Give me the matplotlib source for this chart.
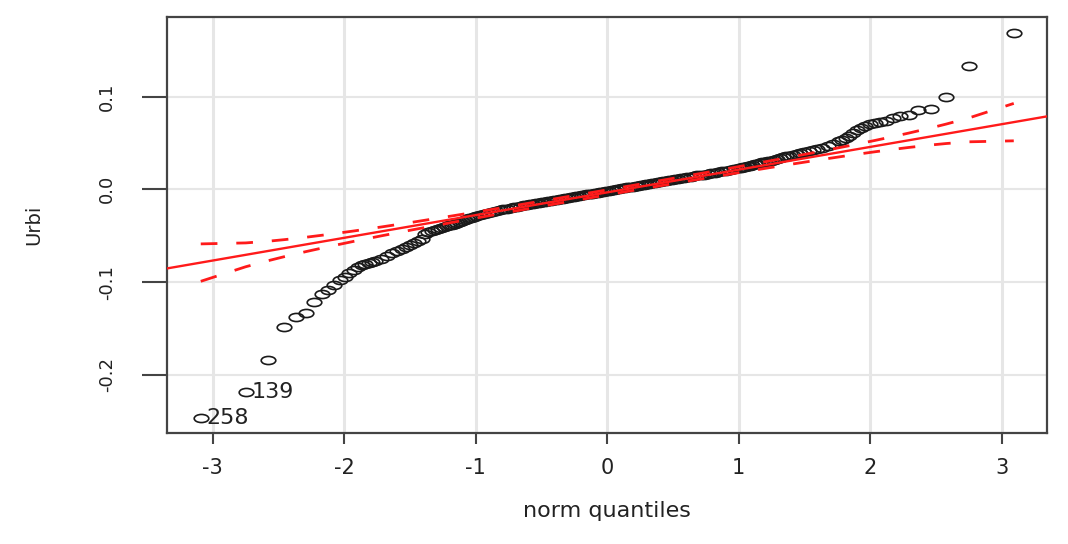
import numpy as np
import matplotlib
matplotlib.use("Agg")
import matplotlib.pyplot as plt
from matplotlib.path import Path
from statistics import NormalDist

plt.rcParams['font.family'] = ['DejaVu Sans']
plt.rcParams['axes.unicode_minus'] = False

n_obs = 500
ranks = (list(range(1, 21)) + list(range(22, 81, 2)) + list(range(84, 249, 4))
         + list(range(253, 422, 4)) + list(range(423, 482, 2)) + list(range(482, 501)))

resid_lo_tail = [-0.247, -0.219, -0.184, -0.148, -0.138, -0.133, -0.121, -0.113, -0.109, -0.103,
                 -0.098, -0.094, -0.090, -0.087, -0.084, -0.082, -0.080, -0.079, -0.078, -0.077]
resid_lo_mid = [-0.075, -0.072, -0.069, -0.066, -0.064, -0.062, -0.060, -0.058, -0.056, -0.054,
                -0.048, -0.046, -0.045, -0.044, -0.043, -0.042, -0.041, -0.040, -0.039, -0.038,
                -0.037, -0.036, -0.035, -0.034, -0.033, -0.032, -0.031, -0.031, -0.030, -0.0288]
resid_lo_core = [-0.0277, -0.0266, -0.0255, -0.0245, -0.0235, -0.0225, -0.0216, -0.0208, -0.0200,
                 -0.0193, -0.0186, -0.0179, -0.0173, -0.0167, -0.0162, -0.0156, -0.0150, -0.0144,
                 -0.0139, -0.0133, -0.0128, -0.0122, -0.0117, -0.0112, -0.0106, -0.0101, -0.0096,
                 -0.0091, -0.0086, -0.0081, -0.0076, -0.0071, -0.0066, -0.0061, -0.0056, -0.0051,
                 -0.0046, -0.0041, -0.0036, -0.0031, -0.0026, -0.0021]
resid_hi_core = [-0.0015, -0.0010, -0.0005, 0.0000, 0.0005, 0.0010, 0.0015, 0.0020, 0.0025, 0.0030,
                 0.0035, 0.0040, 0.0045, 0.0050, 0.0055, 0.0060, 0.0065, 0.0070, 0.0076, 0.0081,
                 0.0086, 0.0092, 0.0097, 0.0103, 0.0108, 0.0114, 0.0120, 0.0126, 0.0131, 0.0137,
                 0.0143, 0.0150, 0.0154, 0.0159, 0.0165, 0.0171, 0.0178, 0.0185, 0.0193, 0.0201,
                 0.0210, 0.0219, 0.0228]
resid_hi_mid = [0.0233, 0.0238, 0.0243, 0.0249, 0.0255, 0.0261, 0.0268, 0.0275, 0.0282, 0.0289,
                0.0296, 0.0303, 0.0310, 0.0318, 0.0330, 0.0342, 0.0350, 0.0357, 0.0364, 0.0372,
                0.0380, 0.0389, 0.0398, 0.0408, 0.0420, 0.0433, 0.0448, 0.0466, 0.0490, 0.0520]
resid_hi_tail = [0.0535, 0.0550, 0.0575, 0.0610, 0.0640, 0.0665, 0.0685, 0.0700, 0.0712, 0.0722,
                 0.0740, 0.0770, 0.0785, 0.0805, 0.0850, 0.0870, 0.0995, 0.1330, 0.1680]

resid = resid_lo_tail + resid_lo_mid + resid_lo_core + resid_hi_core + resid_hi_mid + resid_hi_tail

# labelled points (rank -> observation id)
id_ranks = [1, 2]
id_names = ["258", "139"]

# reference line (robust fit through quartiles)
fit_intercept = -0.0033
fit_slope = 0.0245

x_ticks = [-3, -2, -1, 0, 1, 2, 3]
y_ticks = [-0.2, -0.1, 0.0, 0.1]
y_ticklabels = ["-0.2", "-0.1", "0.0", "0.1"]

nd = NormalDist()
z = np.array([nd.inv_cdf((r - 0.5) / n_obs) for r in ranks])
y = np.array(resid)

# 95% pointwise envelope over every rank
p_all = (np.arange(1, n_obs + 1) - 0.5) / n_obs
z_all = np.array([nd.inv_cdf(p) for p in p_all])
dens = np.array([nd.pdf(v) for v in z_all])
se = fit_slope / dens * np.sqrt(p_all * (1 - p_all) / n_obs)
fit_all = fit_intercept + fit_slope * z_all
upper = fit_all + 1.96 * se
lower = fit_all - 1.96 * se

# R circles come out stretched sideways in the picture
circ = Path.unit_circle()
ell = Path(circ.vertices * np.array([1.8, 1.0]), circ.codes)

fig = plt.figure(figsize=(10.68, 5.44), dpi=100)
ax = fig.add_axes([0.1566, 0.2035, 0.8240, 0.7647])

ax.set_xlim(-3.345, 3.345)
ax.set_ylim(-0.263, 0.1854)

for t in x_ticks:
    ax.axvline(t, color='#e6e6e6', lw=2.2, zorder=0)
for t in y_ticks:
    ax.axhline(t, color='#e6e6e6', lw=1.5, zorder=0)

ax.plot(z, y, ls='none', marker=ell, ms=10.5, mfc='none', mec='#1a1a1a', mew=1.2, zorder=2)

red = '#ff1a1a'
ax.axline((0, fit_intercept), slope=fit_slope, color=red, lw=1.7, zorder=3)
ax.plot(z_all, upper, color=red, lw=2.0, ls=(0, (6.0, 6.8)), zorder=3)
ax.plot(z_all, lower, color=red, lw=2.0, ls=(0, (6.0, 6.8)), zorder=3)

for r, name in zip(id_ranks, id_names):
    i = ranks.index(r)
    ax.annotate(name, (z[i], y[i]), xytext=(4, 0), textcoords='offset points',
                ha='left', va='center', fontsize=16, color='#222222')

ax.set_xticks(x_ticks)
ax.set_xticklabels([str(t) for t in x_ticks])
ax.set_yticks(y_ticks)
ax.set_yticklabels(y_ticklabels, rotation=90, va='center')

ax.tick_params(axis='x', length=8, width=1.5, color='#444444', labelsize=15,
               labelcolor='#222222', pad=10)
ax.tick_params(axis='y', length=18, width=1.5, color='#444444', labelsize=13,
               labelcolor='#222222', pad=19)

for s in ax.spines.values():
    s.set_color('#444444')
    s.set_linewidth(1.6)

ax.set_xlabel("norm quantiles", fontsize=16, color='#222222', va='center')
ax.xaxis.set_label_coords(0.5, -0.187)
ax.set_ylabel("Urbi", fontsize=14, color='#222222', va='center')
ax.yaxis.set_label_coords(-0.1515, 0.5)

fig.savefig("out.png", dpi=100)
